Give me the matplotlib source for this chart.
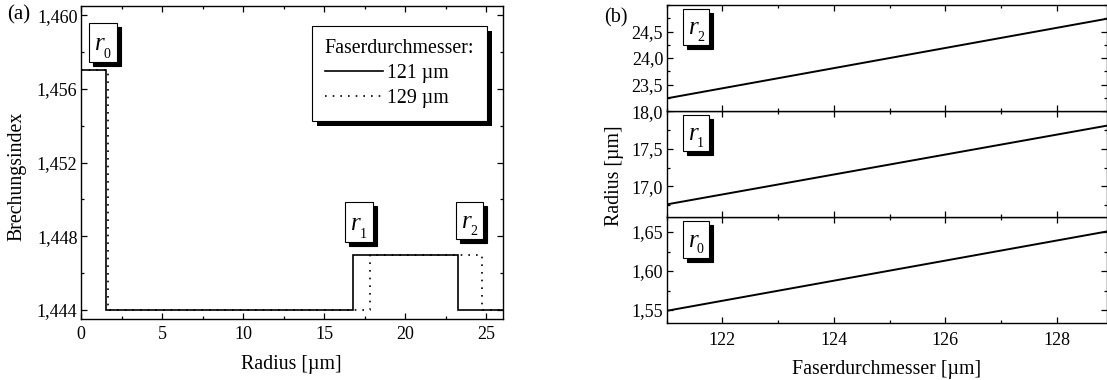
import matplotlib
matplotlib.use("Agg")
import matplotlib.pyplot as plt
from matplotlib.patches import Rectangle
from matplotlib.ticker import MultipleLocator, FixedLocator, FuncFormatter
from matplotlib.transforms import offset_copy, IdentityTransform

# ---- data -------------------------------------------------------------
diameters = [121, 129]            # fibre diameter [um]
r0_um = [1.549, 1.652]            # core radius [um]
r1_um = [16.76, 17.82]            # inner radius of ring [um]
r2_um = [23.24, 24.76]            # outer radius of ring [um]
n_core = 1.457
n_clad = 1.444
n_ring = 1.447
r_max = 26.0
legend_labels = ["121 µm", "129 µm"]
r0_ticks = [1.55, 1.60, 1.65]
r1_ticks = [17.0, 17.5, 18.0]
r2_ticks = [23.5, 24.0, 24.5]

plt.rcParams["font.family"] = ["Liberation Serif", "DejaVu Serif"]
plt.rcParams["mathtext.fontset"] = "stix"

W, H = 1107, 380
fig = plt.figure(figsize=(W / 100, H / 100), dpi=100)

TICK_KW = dict(direction="in", top=True, right=True, width=0.9)
TICK_FS = 13
LABEL_FS = 14.3


def comma_fmt(decimals):
    return FuncFormatter(lambda v, p: f"{v:.{decimals}f}".replace(".", ","))


def style_axes(ax, xpad=4.5):
    ax.tick_params(which="both", **TICK_KW)
    ax.tick_params(which="major", length=4.3, labelsize=TICK_FS, pad=2.5)
    ax.tick_params(which="minor", length=2.4)
    ax.tick_params(axis="x", which="major", pad=xpad)
    for s in ax.spines.values():
        s.set_linewidth(1.0)


def tag(ax, x0, y0, w, h, sub, size=18, subsize=10, shift=4):
    """White label box with a hard black drop shadow and an italic r_sub."""
    shadow_tr = offset_copy(ax.transAxes, fig=fig, x=shift, y=-shift, units="dots")
    ax.add_patch(Rectangle((x0, y0), w, h, transform=shadow_tr, facecolor="black",
                           edgecolor="black", lw=0.8, zorder=5, clip_on=False))
    ax.add_patch(Rectangle((x0, y0), w, h, transform=ax.transAxes, facecolor="white",
                           edgecolor="black", lw=0.8, zorder=6, clip_on=False))
    ax.text(x0 + 0.22 * w, y0 + 0.30 * h, "r", transform=ax.transAxes, fontsize=size,
            style="italic", ha="left", va="baseline", zorder=7)
    ax.text(x0 + 0.52 * w, y0 + 0.11 * h, sub, transform=ax.transAxes, fontsize=subsize,
            ha="left", va="baseline", zorder=7)


# ---- (a) refractive index profile ------------------------------------
ax_a = fig.add_axes([81 / W, 61 / H, 421.5 / W, 313 / H])
styles = ["-", (0, (1, 3.6))]
handles = []
for i in (1, 0):
    xs = [0, r0_um[i], r0_um[i], r1_um[i], r1_um[i], r2_um[i], r2_um[i], r_max]
    ys = [n_core, n_core, n_clad, n_clad, n_ring, n_ring, n_clad, n_clad]
    (ln,) = ax_a.plot(xs, ys, color="black", lw=1.2, linestyle=styles[i],
                      label=legend_labels[i], solid_joinstyle="miter")
    handles.append(ln)
handles = handles[::-1]

ax_a.set_xlim(0, r_max)
ax_a.set_ylim(1.4435, 1.4605)
ax_a.xaxis.set_major_locator(MultipleLocator(5))
ax_a.xaxis.set_minor_locator(MultipleLocator(2.5))
ax_a.yaxis.set_major_locator(MultipleLocator(0.004))
ax_a.yaxis.set_minor_locator(MultipleLocator(0.002))
ax_a.yaxis.set_major_formatter(comma_fmt(3))
style_axes(ax_a, xpad=5)
ax_a.set_xlabel("Radius [µm]", fontsize=LABEL_FS, labelpad=9)
ax_a.set_ylabel("Brechungsindex", fontsize=LABEL_FS)
ax_a.yaxis.set_label_coords(-0.152, 0.457)
ax_a.yaxis.label.set_verticalalignment("center")

leg = ax_a.legend(handles=handles, title="Faserdurchmesser:", loc="upper right",
                  bbox_to_anchor=(0.964, 0.936), borderaxespad=0, fontsize=LABEL_FS,
                  title_fontsize=LABEL_FS, frameon=True, fancybox=False, framealpha=1,
                  edgecolor="black", handlelength=2.9, handletextpad=0.25,
                  labelspacing=0.3, borderpad=0.65, alignment="left")
leg.get_frame().set_linewidth(0.8)
leg.set_zorder(6)

tag(ax_a, 0.0197, 0.821, 0.066, 0.126, "0")
tag(ax_a, 0.6266, 0.246, 0.066, 0.128, "1")
tag(ax_a, 0.8886, 0.256, 0.066, 0.119, "2")

fig.text(7 / W, 1 - 15 / H, "(a)", fontsize=15, ha="left", va="center")

# ---- (b) radii versus fibre diameter ---------------------------------
left_b = 666.7 / W
width_b = 1 - left_b
ph = 106.1 / H
bottoms = [56.7 / H, 56.7 / H + ph, 56.7 / H + 2 * ph]
ax_r0 = fig.add_axes([left_b, bottoms[0], width_b, ph])
ax_r1 = fig.add_axes([left_b, bottoms[1], width_b, ph], sharex=ax_r0)
ax_r2 = fig.add_axes([left_b, bottoms[2], width_b, ph], sharex=ax_r0)

panels = [
    (ax_r0, r0_um, (1.533, 1.669), r0_ticks, 0.025, 2, "0"),
    (ax_r1, r1_um, (16.59, 18.0), r1_ticks, 0.25, 1, "1"),
    (ax_r2, r2_um, (23.0, 25.0), r2_ticks, 0.25, 1, "2"),
]
for ax, vals, ylim, ticks, minor, dec, sub in panels:
    ax.plot(diameters, vals, color="black", lw=1.4)
    ax.set_ylim(*ylim)
    ax.yaxis.set_major_locator(FixedLocator(ticks))
    ax.yaxis.set_minor_locator(MultipleLocator(minor))
    ax.yaxis.set_major_formatter(comma_fmt(dec))
    style_axes(ax, xpad=6.5)
    tag(ax, 0.038, 0.62, 0.059, 0.345, sub, shift=4)

ax_r0.set_xlim(121, 128.9)
ax_r0.xaxis.set_major_locator(MultipleLocator(2))
ax_r0.xaxis.set_minor_locator(MultipleLocator(1))
ax_r0.xaxis.set_major_formatter(FuncFormatter(lambda v, p: f"{v:.0f}"))
for ax in (ax_r1, ax_r2):
    ax.tick_params(axis="x", labelbottom=False)
ax_r0.set_xlabel("Faserdurchmesser [µm]", fontsize=LABEL_FS, labelpad=8)
fig.text(615 / W, 1 - 176 / H, "Radius [µm]", fontsize=LABEL_FS,
         rotation=90, ha="center", va="center")
fig.text(604 / W, 1 - 18 / H, "(b)", fontsize=14.5, ha="left", va="center")

# hard black shadow behind the legend frame
fig.canvas.draw()
bb = leg.get_window_extent()
ax_a.add_patch(Rectangle((bb.x0 + 5, bb.y0 - 5), bb.width, bb.height,
                         transform=IdentityTransform(), facecolor="black",
                         edgecolor="black", lw=0, zorder=5.5, clip_on=False))

fig.savefig("out.png", dpi=100)
